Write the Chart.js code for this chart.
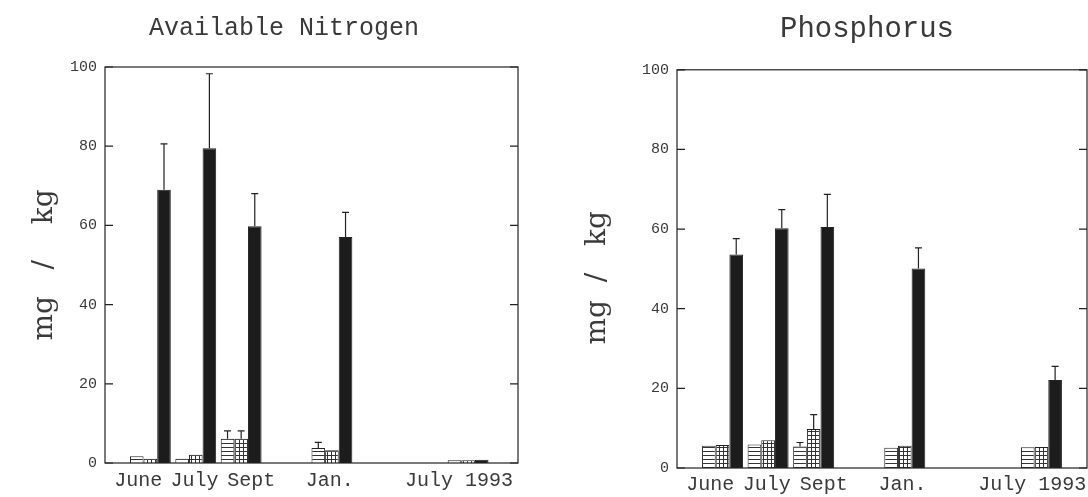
<!DOCTYPE html>
<html>
<head>
<meta charset="utf-8">
<script src="https://cdn.jsdelivr.net/npm/chart.js@4/dist/chart.umd.min.js"></script>
<style>
  html, body { margin: 0; padding: 0; background: #fff; overflow: hidden; width: 1088px; height: 497px; }
  .wrap { position: absolute; top: 0; height: 497px; }
  #wrapN { left: 0; width: 568px; }
  #wrapP { left: 560px; width: 614px; }
</style>
</head>
<body>
<div class="wrap" id="wrapN"><canvas id="nitrogenChart"></canvas></div>
<div class="wrap" id="wrapP"><canvas id="phosphorusChart"></canvas></div>
<script>
// ========================
// DATA
// ========================
const sampleDates = ['June', 'July', 'Sept', 'Jan.', 'July 1993'];
const datePositions = [1, 2, 3, 5, 8];            // bar groups, spaced as on the original axis
const labelPositions = [0.73, 1.97, 3.22, 4.95, 7.8]; // where the date labels sit under them
const yTicks = [0, 20, 40, 60, 80, 100];

// Available Nitrogen (mg/kg)
const nitrogenA = [1.7, 1.1, 6.1, 3.8, 0.7];
const nitrogenB = [1.1, 2.1, 6.1, 3.2, 0.7];
const nitrogenC = [69.0, 79.5, 59.8, 57.1, 0.8];
const nitrogenErrA = [0, 0, 2.0, 1.4, 0];
const nitrogenErrB = [0, 0, 2.0, 0, 0];
const nitrogenErrC = [11.6, 18.8, 8.2, 6.2, 0];

// Phosphorus (mg/kg)
const phosphorusA = [5.6, 5.9, 5.4, 5.1, 5.2];
const phosphorusB = [5.8, 7.0, 9.8, 5.6, 5.3];
const phosphorusC = [53.6, 60.2, 60.5, 50.1, 22.1];
const phosphorusErrA = [0, 0, 1.0, 0, 0];
const phosphorusErrB = [0, 0, 3.6, 0, 0];
const phosphorusErrC = [4.0, 4.7, 8.2, 5.2, 3.4];

// ========================
// STYLE HELPERS
// ========================
const INK = '#222';
const TEXT = '#3a3a3a';

function hatch(kind) {
  const c = document.createElement('canvas');
  c.width = 4; c.height = 4;
  const g = c.getContext('2d');
  g.fillStyle = '#fff';
  g.fillRect(0, 0, 4, 4);
  g.fillStyle = '#333';
  g.fillRect(0, 3, 4, 1);
  if (kind === 'grid') g.fillRect(3, 0, 1, 4);
  return g.createPattern(c, 'repeat');
}

// frame, inward ticks and one-sided error bars
const frameAndErrors = {
  id: 'frameAndErrors',
  afterDatasetsDraw(chart) {
    const { ctx, chartArea: a } = chart;
    const y = chart.scales.y;
    ctx.save();
    ctx.strokeStyle = INK;
    ctx.lineWidth = 1.2;

    chart.data.datasets.forEach((ds, i) => {
      const meta = chart.getDatasetMeta(i);
      ds.errors.forEach((err, j) => {
        if (!err) return;
        const bar = meta.data[j];
        const top = y.getPixelForValue(ds.data[j].y + err);
        ctx.beginPath();
        ctx.moveTo(bar.x, bar.y);
        ctx.lineTo(bar.x, top);
        ctx.moveTo(bar.x - 3.5, top);
        ctx.lineTo(bar.x + 3.5, top);
        ctx.stroke();
      });
    });

    ctx.strokeRect(a.left, a.top, a.width, a.height);
    yTicks.forEach(v => {
      const py = y.getPixelForValue(v);
      ctx.beginPath();
      ctx.moveTo(a.left, py);
      ctx.lineTo(a.left + 8, py);
      ctx.moveTo(a.right, py);
      ctx.lineTo(a.right - 8, py);
      ctx.stroke();
    });
    ctx.restore();
  }
};

function makeChart(canvasId, title, series, errors, layout) {
  const ctx = document.getElementById(canvasId).getContext('2d');
  const fills = [hatch('lines'), hatch('grid'), '#1c1c1c'];
  const names = ['Series A', 'Series B', 'Series C'];

  return new Chart(ctx, {
    type: 'bar',
    data: {
      datasets: series.map((vals, k) => ({
        label: names[k],
        data: vals.map((v, i) => ({ x: datePositions[i], y: v })),
        errors: errors[k],
        backgroundColor: fills[k],
        borderColor: INK,
        borderWidth: 1,
        categoryPercentage: 0.9,
        barPercentage: 1.0
      }))
    },
    options: {
      responsive: true,
      maintainAspectRatio: false,
      animation: false,
      layout: { padding: 0 },
      plugins: {
        legend: { display: false },
        tooltip: { enabled: false },
        title: {
          display: true,
          text: title,
          color: TEXT,
          font: { family: 'Liberation Mono', size: layout.titleSize, weight: 'normal', lineHeight: 1.2 },
          padding: { top: layout.titleTop, bottom: layout.titleBottom }
        }
      },
      scales: {
        x: {
          type: 'linear',
          min: 0,
          max: layout.xMax,
          offset: false,
          grid: { display: false, drawTicks: false },
          border: { display: false },
          afterBuildTicks: axis => { axis.ticks = labelPositions.map(v => ({ value: v })); },
          afterFit: axis => { axis.height = layout.xHeight; },
          ticks: {
            autoSkip: false,
            maxRotation: 0,
            padding: layout.xPad,
            color: TEXT,
            font: { family: 'Liberation Mono', size: 20 },
            callback: v => sampleDates[labelPositions.indexOf(v)]
          }
        },
        y: {
          min: 0,
          max: 100,
          grid: { display: false, drawTicks: false },
          border: { display: false },
          afterFit: axis => { axis.width = layout.yWidth; },
          ticks: {
            stepSize: 20,
            padding: 8,
            color: TEXT,
            font: { family: 'Liberation Mono', size: 15 }
          },
          title: {
            display: true,
            text: layout.yTitle,
            color: TEXT,
            font: { family: 'DejaVu Serif', size: 28, weight: 'normal', lineHeight: 1.2 },
            padding: { top: layout.yTitlePad, bottom: 0 }
          }
        },
        y2: {
          position: 'right',
          min: 0,
          max: 100,
          grid: { display: false, drawTicks: false },
          border: { display: false },
          ticks: { display: false },
          afterFit: axis => { axis.width = layout.rightGap; }
        }
      }
    },
    plugins: [frameAndErrors]
  });
}

// ========================
// INIT
// ========================
makeChart('nitrogenChart', 'Available Nitrogen',
  [nitrogenA, nitrogenB, nitrogenC],
  [nitrogenErrA, nitrogenErrB, nitrogenErrC],
  { xMax: 9.1, titleSize: 25, titleTop: 13, titleBottom: 24, xHeight: 34, xPad: 6, yWidth: 105, rightGap: 50,
    yTitle: 'mg   /    kg', yTitlePad: 28 });

makeChart('phosphorusChart', 'Phosphorus',
  [phosphorusA, phosphorusB, phosphorusC],
  [phosphorusErrA, phosphorusErrB, phosphorusErrC],
  { xMax: 9.0, titleSize: 29, titleTop: 12, titleBottom: 23, xHeight: 29, xPad: 5, yWidth: 117, rightGap: 87,
    yTitle: 'mg  /   kg  ', yTitlePad: 21 });
</script>
</body>
</html>
